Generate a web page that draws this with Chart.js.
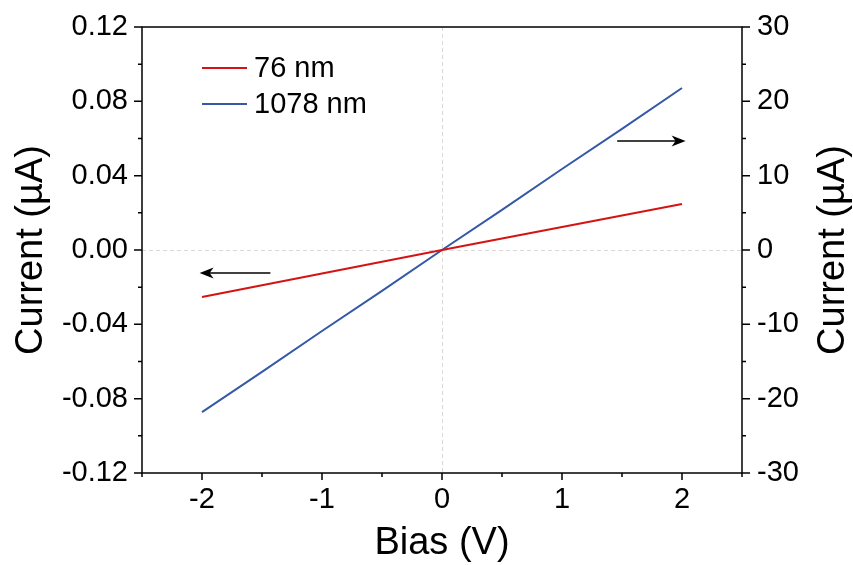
<!DOCTYPE html>
<html>
<head>
<meta charset="utf-8">
<script src="https://cdn.jsdelivr.net/npm/chart.js@4/dist/chart.umd.min.js"></script>
<style>
  html, body { margin: 0; padding: 0; background: #fff; }
  #wrap { width: 853px; height: 565px; }
</style>
</head>
<body>
<div id="wrap"><canvas id="c" width="853" height="565"></canvas></div>
<script>
// ---- Data ----
const biasV = [-2, -1.5, -1, -0.5, 0, 0.5, 1, 1.5, 2];
const current76nm = [-0.0253, -0.0190, -0.0127, -0.0063, 0.0000, 0.0062, 0.0124, 0.0186, 0.0248];   // µA, left axis
const current1078nm = [-21.8, -16.4, -10.9, -5.5, 0.0, 5.4, 10.9, 16.3, 21.8];                    // µA, right axis
const seriesLabels = ['76 nm', '1078 nm'];
const seriesColors = ['#d41414', '#3559a6'];

// axis ranges / tick labels
const xRange = [-2.5, 2.5];
const xTickLabels = [-2, -1, 0, 1, 2];
const yLeftRange = [-0.12, 0.12];
const yLeftTickLabels = ['-0.12', '-0.08', '-0.04', '0.00', '0.04', '0.08', '0.12'];
const yRightRange = [-30, 30];
const yRightTickLabels = ['-30', '-20', '-10', '0', '10', '20', '30'];

// arrows (data coordinates on x and left y axis): [fromX, toX, y]
const arrowLeft = [-1.43, -2.02, -0.0124];
const arrowRight = [1.46, 2.03, 0.0587];

const FONT = "'Liberation Sans', Arial, Helvetica, sans-serif";
const TICK_FONT = { family: FONT, size: 29 };
const TITLE_FONT = { family: FONT, size: 38, lineHeight: 1 };

function makeXY(xs, ys) { return xs.map((x, i) => ({ x: x, y: ys[i] })); }

const decorations = {
  id: 'decorations',
  beforeDatasetsDraw(chart) {
    const { ctx, chartArea: a, scales: { x, y } } = chart;
    ctx.save();
    ctx.strokeStyle = '#d9d9d9';
    ctx.lineWidth = 1;
    ctx.setLineDash([4, 3]);
    const px = Math.round(x.getPixelForValue(0)) + 0.5;
    const py = Math.round(y.getPixelForValue(0)) + 0.5;
    ctx.beginPath();
    ctx.moveTo(px, a.top); ctx.lineTo(px, a.bottom);
    ctx.moveTo(a.left, py); ctx.lineTo(a.right, py);
    ctx.stroke();
    ctx.restore();
  },
  afterDraw(chart) {
    const { ctx, chartArea: a, scales: { x, y, y2 } } = chart;
    ctx.save();
    // frame
    ctx.strokeStyle = '#000';
    ctx.lineWidth = 1.5;
    ctx.setLineDash([]);
    ctx.strokeRect(a.left, a.top, a.right - a.left, a.bottom - a.top);
    // ticks (major with label, minor without)
    ctx.lineWidth = 1.5;
    ctx.beginPath();
    x.ticks.forEach(t => {
      const p = x.getPixelForValue(t.value);
      const major = Math.abs(t.value - Math.round(t.value)) < 1e-6;
      ctx.moveTo(p, a.bottom); ctx.lineTo(p, a.bottom + (major ? 7 : 4));
    });
    y.ticks.forEach(t => {
      const p = y.getPixelForValue(t.value);
      const major = Math.round(t.value * 100) % 4 === 0;
      ctx.moveTo(a.left, p); ctx.lineTo(a.left - (major ? 8 : 4), p);
    });
    y2.ticks.forEach(t => {
      const p = y2.getPixelForValue(t.value);
      const major = Math.round(t.value) % 10 === 0;
      ctx.moveTo(a.right, p); ctx.lineTo(a.right + (major ? 8 : 4), p);
    });
    ctx.stroke();

    // arrows
    function arrow(spec) {
      const x0 = x.getPixelForValue(spec[0]);
      const x1 = x.getPixelForValue(spec[1]);
      const yy = y.getPixelForValue(spec[2]);
      const dir = Math.sign(x1 - x0);
      ctx.strokeStyle = '#000';
      ctx.lineWidth = 1.5;
      ctx.beginPath();
      ctx.moveTo(x0, yy); ctx.lineTo(x1 - dir * 6, yy);
      ctx.stroke();
      ctx.fillStyle = '#000';
      ctx.beginPath();
      ctx.moveTo(x1, yy);
      ctx.lineTo(x1 - dir * 14, yy - 5.5);
      ctx.lineTo(x1 - dir * 10, yy);
      ctx.lineTo(x1 - dir * 14, yy + 5.5);
      ctx.closePath();
      ctx.fill();
    }
    arrow(arrowLeft);
    arrow(arrowRight);

    // legend
    const ds = chart.data.datasets;
    const legX0 = a.left + 60, legX1 = a.left + 105, legTextX = a.left + 112;
    const legY = [a.top + 41, a.top + 77];
    ctx.font = '29px ' + FONT;
    ctx.textBaseline = 'middle';
    ctx.textAlign = 'left';
    ds.forEach((d, i) => {
      ctx.strokeStyle = d.borderColor;
      ctx.lineWidth = 2;
      ctx.beginPath();
      ctx.moveTo(legX0, legY[i]); ctx.lineTo(legX1, legY[i]);
      ctx.stroke();
      ctx.fillStyle = '#000';
      ctx.fillText(d.label, legTextX, legY[i] + 1);
    });

    // right axis title (reads bottom-to-top like the left one)
    ctx.translate(834, (a.top + a.bottom) / 2);
    ctx.rotate(-Math.PI / 2);
    ctx.font = '38px ' + FONT;
    ctx.textAlign = 'center';
    ctx.textBaseline = 'middle';
    ctx.fillStyle = '#000';
    ctx.fillText('Current (\u00b5A)', 0, 0);
    ctx.restore();
  }
};

new Chart(document.getElementById('c'), {
  type: 'line',
  data: {
    datasets: [
      {
        label: seriesLabels[0],
        data: makeXY(biasV, current76nm),
        borderColor: seriesColors[0],
        backgroundColor: seriesColors[0],
        borderWidth: 2,
        pointRadius: 0,
        tension: 0,
        yAxisID: 'y'
      },
      {
        label: seriesLabels[1],
        data: makeXY(biasV, current1078nm),
        borderColor: seriesColors[1],
        backgroundColor: seriesColors[1],
        borderWidth: 2,
        pointRadius: 0,
        tension: 0,
        yAxisID: 'y2'
      }
    ]
  },
  options: {
    responsive: false,
    animation: false,
    devicePixelRatio: 1,
    layout: { padding: { top: 27, left: 0, right: 0, bottom: 0 } },
    plugins: {
      legend: { display: false },
      tooltip: { enabled: false }
    },
    scales: {
      x: {
        type: 'linear',
        min: xRange[0], max: xRange[1],
        afterFit(s) { s.height = 92; },
        afterBuildTicks(s) {
          const t = [];
          for (let v = -5; v <= 5; v++) t.push({ value: v / 2 });
          s.ticks = t;
        },
        ticks: {
          autoSkip: false, maxRotation: 0, padding: 2,
          color: '#000', font: TICK_FONT,
          callback(v) {
            const m = xTickLabels.find(l => Math.abs(l - v) < 1e-6);
            return m === undefined ? '' : String(m);
          }
        },
        grid: { drawOnChartArea: false, tickLength: 8, tickColor: 'rgba(0,0,0,0)' },
        border: { display: false },
        title: { display: true, text: 'Bias (V)', color: '#000', font: TITLE_FONT, padding: { top: 2, bottom: 2 } }
      },
      y: {
        type: 'linear', position: 'left',
        min: yLeftRange[0], max: yLeftRange[1],
        afterFit(s) { s.width = 142; },
        afterBuildTicks(s) {
          const t = [];
          for (let k = -6; k <= 6; k++) t.push({ value: k * 0.02 });
          s.ticks = t;
        },
        ticks: {
          autoSkip: false, padding: 6,
          color: '#000', font: TICK_FONT,
          callback(v) {
            const k = Math.round(v * 100);
            return k % 4 === 0 ? yLeftTickLabels[(k + 12) / 4] : '';
          }
        },
        grid: { drawOnChartArea: false, tickLength: 8, tickColor: 'rgba(0,0,0,0)' },
        border: { display: false },
        title: { display: true, text: 'Current (\u00b5A)', color: '#000', font: TITLE_FONT, padding: { top: 13, bottom: 0 } }
      },
      y2: {
        type: 'linear', position: 'right',
        min: yRightRange[0], max: yRightRange[1],
        afterFit(s) { s.width = 111; },
        afterBuildTicks(s) {
          const t = [];
          for (let k = -6; k <= 6; k++) t.push({ value: k * 5 });
          s.ticks = t;
        },
        ticks: {
          autoSkip: false, padding: 7,
          color: '#000', font: TICK_FONT,
          callback(v) {
            const k = Math.round(v);
            return k % 10 === 0 ? yRightTickLabels[(k + 30) / 10] : '';
          }
        },
        grid: { drawOnChartArea: false, tickLength: 8, tickColor: 'rgba(0,0,0,0)' },
        border: { display: false },
        title: { display: false }
      }
    }
  },
  plugins: [decorations]
});
</script>
</body>
</html>
